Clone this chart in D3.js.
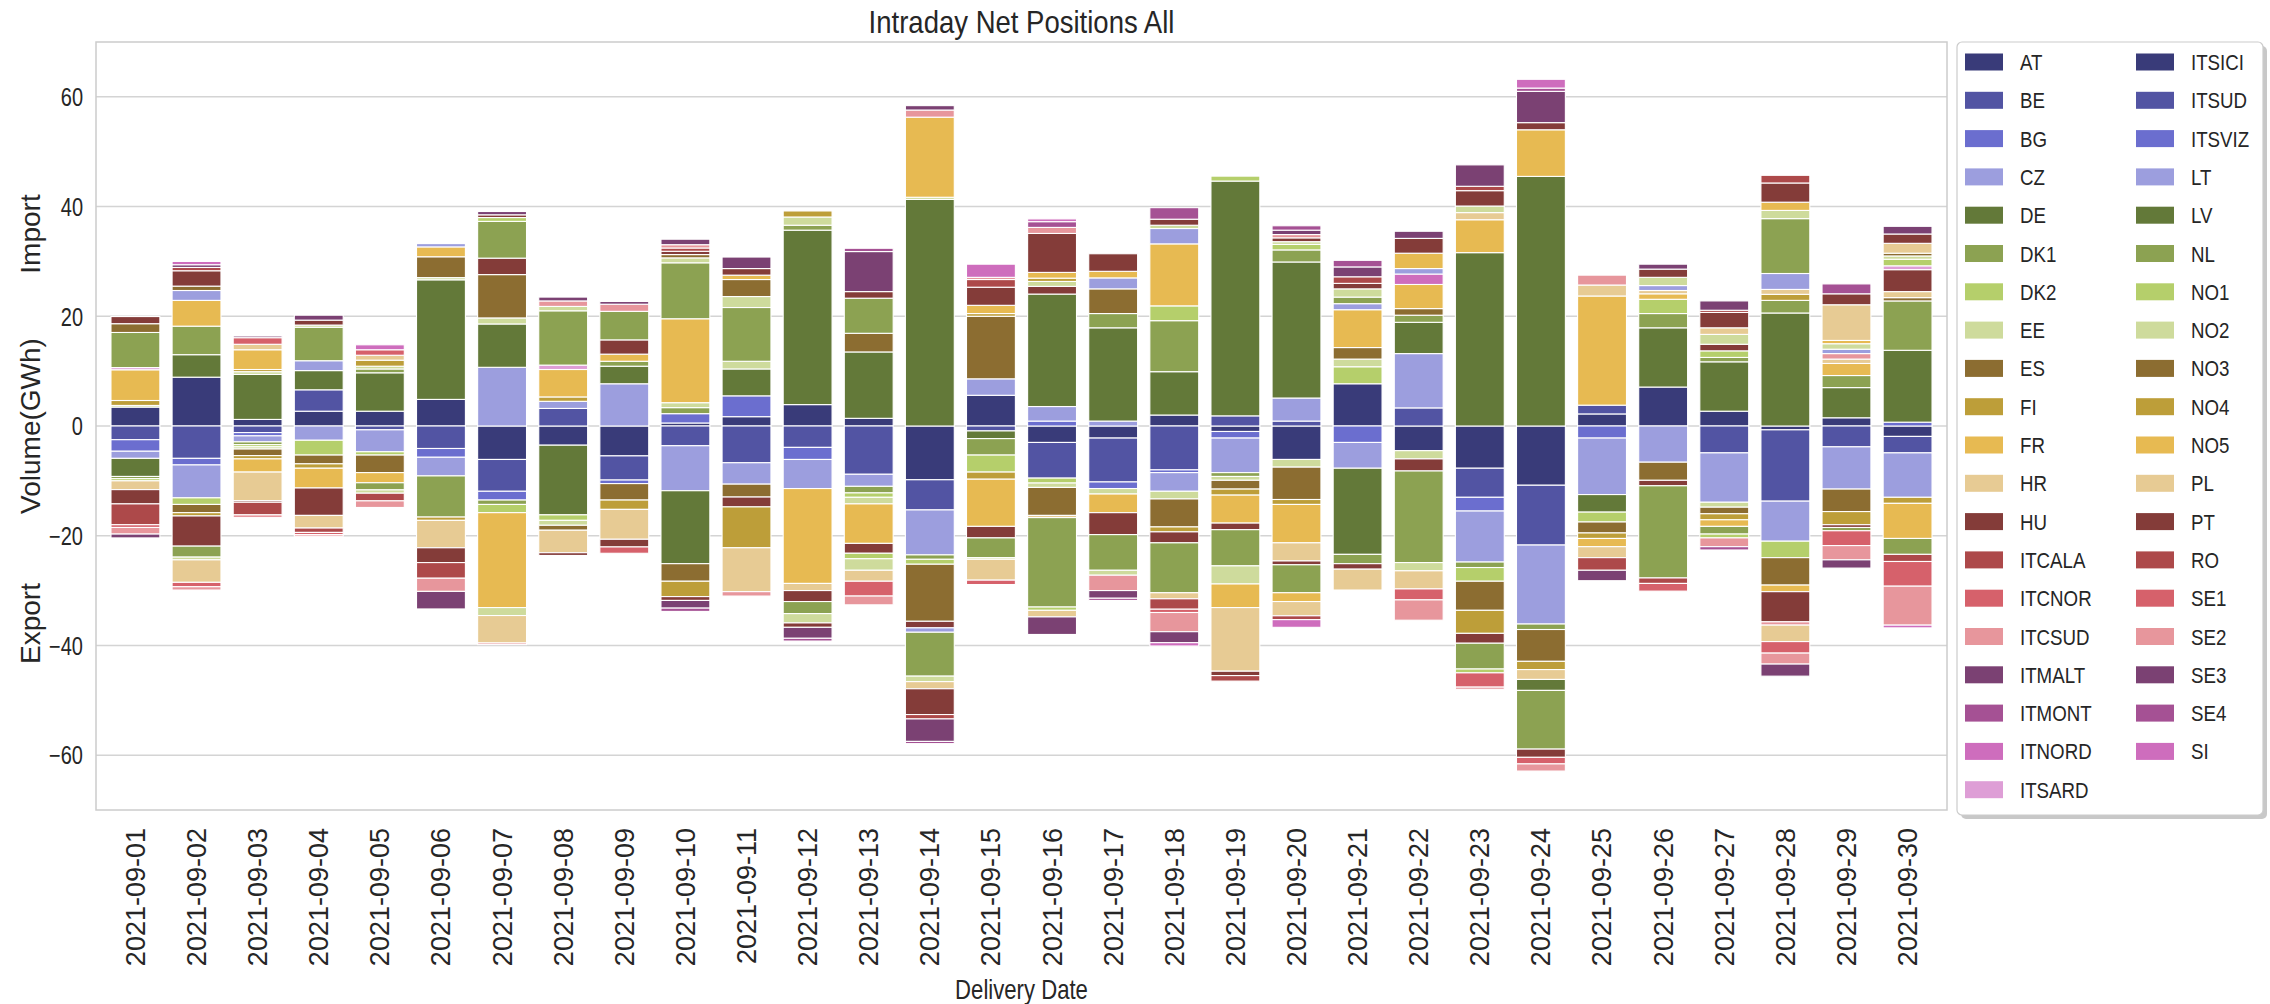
<!DOCTYPE html>
<html><head><meta charset="utf-8">
<script src="https://cdn.jsdelivr.net/npm/d3@7"></script>
<style>
body{margin:0;background:#fff;}
svg{display:block;}
text{font-family:"Liberation Sans", Arial, sans-serif; fill:#262626;}
</style>
</head><body>
<svg id="chart" width="2270" height="1004"></svg>
<script>
const dates = ["2021-09-01","2021-09-02","2021-09-03","2021-09-04","2021-09-05","2021-09-06","2021-09-07","2021-09-08","2021-09-09","2021-09-10","2021-09-11","2021-09-12","2021-09-13","2021-09-14","2021-09-15","2021-09-16","2021-09-17","2021-09-18","2021-09-19","2021-09-20","2021-09-21","2021-09-22","2021-09-23","2021-09-24","2021-09-25","2021-09-26","2021-09-27","2021-09-28","2021-09-29","2021-09-30"];
const seriesNames = ["AT","BE","BG","CZ","DE","DK1","DK2","EE","ES","FI","FR","HR","HU","ITCALA","ITCNOR","ITCSUD","ITMALT","ITMONT","ITNORD","ITSARD","ITSICI","ITSUD","ITSVIZ","LT","LV","NL","NO1","NO2","NO3","NO4","NO5","PL","PT","RO","SE1","SE2","SE3","SE4","SI"];
const yTicks = [-60,-40,-20,0,20,40,60];
const palette = ["#393b79","#5254a3","#6b6ecf","#9c9ede","#637939","#8ca252","#b5cf6b","#cedb9c","#8c6d31","#bd9e39","#e7ba52","#e7cb94","#843c39","#ad494a","#d6616b","#e7969c","#7b4173","#a55194","#ce6dbd","#de9ed6"];

const AT = [3.45,8.9,1.2,2.7,2.7, 4.85,-6.1,-3.5,-5.45,0.55, 1.7,3.9,1.4,-9.8,5.6, -3.0,-2.2,2.0,-1.0,-6.1, 7.7,-4.5,-7.7,-10.8,2.2, 7.1,2.7,-0.7,1.5,-1.9];
const BE = [-2.5,-5.9,-1.2,3.9,-0.7, -4.1,-5.8,3.2,-4.4,-3.6, -6.7,-3.9,-8.8,-5.5,-0.9, -6.5,-8.0,-8.0,1.85,0.9, 0,3.3,-5.3,-10.9,1.6, 0,-4.9,-13.0,-3.8,-3.0];
const BG = [-2.1,-1.2,-0.6,0,0, -1.6,-1.6,0,-0.65,1.7, 3.8,-2.2,0,0,0, 0.9,-1.2,-0.5,-1.2,0, -3.0,0,-2.5,0,-2.2, 0,0,0,0,0.7];
const CZ = [-1.3,-6.0,-1.1,-2.6,-4.0, -3.4,10.7,1.3,7.7,-8.2, -3.9,-5.3,-2.2,-8.2,0, 2.65,0.9,-3.4,-6.3,4.2, -4.7,9.9,-9.3,-14.4,-10.3, -6.6,-9.0,-7.3,-7.7,-8.1];
const DE = [-3.3,4.1,8.2,3.5,7.0, 21.8,7.9,-12.7,3.2,-13.3, 4.9,31.8,12.1,41.3,-1.4, 20.5,17.0,7.9,42.8,24.8, -15.7,5.7,31.6,45.5,-3.2, 10.8,9.0,20.6,5.5,13.1];
const DK1 = [-0.4,5.2,-0.5,0,0.7, -7.5,-0.8,0,0.9,1.1, 0,0.9,-1.2,-0.8,-3.0, 0,2.6,9.3,-0.7,2.2, -1.7,1.3,-1.0,-1.0,0, 2.6,0.8,2.3,2.2,9.0];
const DK2 = [-0.4,-1.2,-0.4,-2.7,-0.6, 0,-1.5,-1.0,0,0, 0,0,-0.8,-0.9,-3.1, -0.9,0,2.7,0.9,1.0, 3.1,0,-2.5,0,-1.8, 2.6,1.2,-3.0,0,0];
const EE = [0.3,0,-0.4,0,0.5, 0.4,1.1,-0.9,0,0.9, 1.4,1.5,-1.2,0.4,0, -0.8,-1.0,-1.4,-0.7,-1.4, 1.4,-1.5,0,0,0, 0,-0.9,0,0,0];
const ES = [0,-1.5,-1.2,-1.6,-3.2, 3.8,7.9,-0.9,-3.0,-3.2, -2.35,0,3.4,-10.4,0, -5.1,4.5,-5.1,-1.6,-5.9, 2.1,1.2,-5.3,-5.8,-2.0, -3.3,-1.2,-5.0,-4.1,0.6];
const FI = [0.9,-0.6,-0.6,-0.8,1.1, -0.6,0,0.8,-1.7,-2.8, 0,1.1,0,0,-1.3, 0,0,-0.9,-1.1,-0.9, 0,0,-4.2,-1.5,-1.0, 0,-1.1,1.1,-2.4,-1.1];
const FR = [5.6,4.7,-2.4,-3.6,-1.85, 1.8,-17.3,5.0,1.3,15.3, 0,-17.3,-7.2,14.6,-8.6, 0,-3.4,11.3,-5.1,-7.0, 6.9,4.4,6.0,8.5,-1.5, 1.0,-1.2,-1.2,2.2,-6.4];
const HR = [-1.6,0,-5.2,0,0.9, -5.0,0,-4.1,-5.45,0, 0,-1.3,0,0,0, -0.4,0,0,0,-3.3, 0,0,1.3,-1.8,-2.0, 0.6,0,0.9,0.8,1.1];
const HU = [-2.6,-5.5,-0.3,-5.0,0, -2.7,3.0,-0.5,2.6,-0.7, -1.8,-2.0,-1.8,-1.2,-2.1, 1.4,-4.0,-2.0,-1.2,-0.7, -1.0,-2.2,-1.8,1.3,0, -1.0,1.2,-5.5,-0.5,4.0];
const ITCALA = [-3.8,0,-2.3,0,0, -2.85,0,0,0,0, 0,0,0,0,0, 0,0,0,0,0, 0,0,0,0,-2.3, 0,0,0,0,0];
const ITCNOR = [-0.5,0,0,0,1.0, 0,0,0,0,0, 0,0,0,0,0, 0,0,0,0,0, 0,0,0,0,0, 0,0,0,0,0];
const ITCSUD = [-1.2,0,-0.5,0,0, -2.4,0,0,0,0, 0,0,0,1.3,0, 0,0,0,0,0, 0,0,0,0,0, 0,0,-0.6,1.0,0];
const ITMALT = [-0.7,0,0,0,0, -3.2,0,0,0,-1.4, 0,0,0,0.8,0, 0,0,0,0,0, 0,0,0,5.7,-1.9, 0,0,0,0,0];
const ITMONT = [0,0,0,0,0, 0,0,0,0,-0.6, 0,0,0,0,0, 0,0,0,0,0, 0,0,0,0.6,0, 0,0,0,0,0];
const ITNORD = [0,0,0,0,0.9, 0,0,0,0,0, 0,0,0,0,0, 0,0,0,0,0, 0,1.9,0,1.6,0, 0,0,0,0,0];
const ITSARD = [0.4,0,0,0,0, 0,0,0.8,0,0, 0,0,0,0,0, 0,0,0,0,0, 0,0,0,0,0, 0,0,0,0,0.7];
const ITSICI = [0,0,0,0,0, 0,0,0,0,0, 0,0,0,0,0, 0,0,0,0,0, 0,0,0,0,0, 0,0,0,0,0];
const ITSUD = [0,0,0,0,0, 0,0,0,0,0, 0,0,0,0,0, 0,0,0,0,0, 0,0,0,0,0, 0,0,0,0,0];
const ITSVIZ = [0,0,0,0,0, 0,0,0,0,0, 0,0,0,0,0, 0,0,0,0,0, 0,0,0,0,0, 0,0,0,0,0];
const LT = [0,1.8,0,1.8,0, 0.6,0,0,0,0, 0,0,0,-0.8,3.0, 0,2.0,2.8,0,0, 1.1,1.0,0,0,0, 0.9,0,2.9,0.8,0];
const LV = [0,0,0,0,0, 0,0,0,0,0, 0,0,0,0,0, 0,0,0,0,0, 0,0,0,-2.0,0, 0,0,0,0,0];
const NL = [6.4,-2.0,0,6.1,-1.3, 0,6.7,9.9,5.2,10.2, 9.8,-2.2,6.4,-8.0,-3.6, -16.3,-6.5,-9.1,-6.6,-5.1, 1.2,-16.7,-4.7,-10.7,0, -16.8,-1.4,10.0,-0.6,-2.9];
const NO1 = [0,0,0,0,0, 0,0.7,0,0,0, 0,0,-1.0,0,0, -0.6,0,0,0,0, 0,0,-0.7,0,0, 0,-0.7,0,0,1.2];
const NO2 = [0,-0.5,0.5,0.4,-0.6, 0,-1.45,0.8,0,0.9, 2.0,-1.7,-2.1,-1.0,-0.3, 0.9,-0.9,0.6,-3.3,0.5, 1.5,-1.5,1.2,0,0, 1.5,1.8,1.5,1.0,0.6];
const NO3 = [1.6,0.8,0,0,0, 0,0,0,0,0.6, 3.1,0,0,0,11.4, 0,0,0,0,0, 0,0,0,0,0, 0,0,0,0,0.5];
const NO4 = [0,0,0.4,0,0, 0,0,0,0,0, -7.45,0,0,0,0.5, 0.6,0,0,0,0, 0,0,0,0,0, 0,0,0,0,0];
const NO5 = [0,0,3.6,0,0, 0,0,0,0,0, 0.8,0,0,0,1.5, 1.05,1.2,0,-4.3,-1.6, 0,2.8,0,0,19.9, 0,0,1.5,0.6,0];
const PL = [0,-4.1,1.0,-2.3,0, 0,-5.0,0,0,0, -8.0,0,-2.0,-1.3,-3.8, -1.2,0,-1.1,-11.6,-2.6, -3.8,-3.3,0,0,2.0, 0,1.2,-3.0,6.5,1.8];
const PT = [1.3,2.8,0,0.9,0, 0,0.5,0,-1.4,0.6, 1.2,-0.8,1.2,-4.7,3.3, 7.1,3.2,1.1,-0.8,0.7, 1.0,2.7,2.8,-1.5,0, 1.5,2.8,3.5,2.0,1.7];
const RO = [0,0.6,0,-0.8,-1.4, 0,0,0,0,0.6, 0,0,0,-0.8,1.4, 0,0,-1.9,-1.0,-0.7, 1.2,0,0.8,0,0, -1.0,0.4,1.4,0,-1.3];
const SE1 = [0,-0.8,1.2,-0.4,0, 0,0,0,-1.15,0, 0,0,-2.7,0,-0.8, 0,0,-0.6,0,0, 0,-2.0,-2.6,-1.2,0, -1.4,0,-2.1,-2.7,-4.5];
const SE2 = [0,-0.6,0,-0.3,-1.2, 0,-0.3,1.0,1.3,0.6, -0.8,0,-1.6,0,0.4, 1.1,-2.8,-3.5,0,0.6, 0,-3.7,-0.4,-1.3,1.8, 0,-1.6,-2.0,-2.6,-7.1];
const SE3 = [0,0.5,0.3,0.9,0, 0,0.6,0.7,0.5,1.0, 2.1,-2.0,7.3,-4.1,0, -3.2,-1.4,-2.0,0,0.8, 1.8,1.3,3.9,0,0, 0.9,1.7,-2.2,-1.5,1.4];
const SE4 = [0,0,0,0,0, 0,0,0,0,0, 0,-0.5,0.6,-0.4,0, 1.05,-0.4,2.1,0,0.8, 1.2,0,0,0,0, 0,-0.6,0,1.8,0];
const SI = [0,0.6,0,0,0, 0,0,0,0,0, 0,0,0,0,2.4, 0.5,0,-0.6,0,-1.4, 0,0,0,0,0, 0,0,0,0,-0.5];

const seriesValues = [AT,BE,BG,CZ,DE,DK1,DK2,EE,ES,FI,FR,HR,HU,ITCALA,ITCNOR,ITCSUD,ITMALT,ITMONT,ITNORD,ITSARD,ITSICI,ITSUD,ITSVIZ,LT,LV,NL,NO1,NO2,NO3,NO4,NO5,PL,PT,RO,SE1,SE2,SE3,SE4,SI];
const color = d3.scaleOrdinal().domain(seriesNames).range(seriesNames.map((s,i)=>palette[i % 20]));

const svg = d3.select("#chart");
const L = 96, R = 1947, T = 42, B = 810;
const x = d3.scaleBand().domain(dates).range([L, R]).paddingInner(0.2).paddingOuter(0.245);
const y = d3.scaleLinear().domain([-70, 70]).range([B, T]);

// gridlines
svg.append("g").selectAll("line").data(yTicks).join("line")
  .attr("x1", L).attr("x2", R)
  .attr("y1", d => y(d)).attr("y2", d => y(d))
  .attr("stroke", "#d4d4d4").attr("stroke-width", 1.5);

// stacked segments
const segs = [];
dates.forEach((d, i) => {
  let pos = 0, neg = 0;
  seriesNames.forEach((s, k) => {
    const v = seriesValues[k][i];
    if (v > 0) { segs.push({d, s, y0: pos, y1: pos + v}); pos += v; }
    else if (v < 0) { segs.push({d, s, y0: neg, y1: neg + v}); neg += v; }
  });
});
svg.append("g").selectAll("rect").data(segs).join("rect")
  .attr("x", d => x(d.d))
  .attr("width", x.bandwidth())
  .attr("y", d => y(Math.max(d.y0, d.y1)))
  .attr("height", d => Math.abs(y(d.y0) - y(d.y1)))
  .attr("fill", d => color(d.s))
  .attr("stroke", "#ffffff").attr("stroke-width", 1.1);

// frame
svg.append("rect").attr("x", L).attr("y", T).attr("width", R - L).attr("height", B - T)
  .attr("fill", "none").attr("stroke", "#cccccc").attr("stroke-width", 1.5);

// y axis
const yAxis = svg.append("g").attr("transform", `translate(${L},0)`)
  .call(d3.axisLeft(y).tickValues(yTicks).tickSize(0).tickFormat(d => d < 0 ? "\u2212" + Math.abs(d) : d));
yAxis.select(".domain").remove();
yAxis.selectAll("text")
  .attr("x", 0).attr("dy", "0.35em")
  .attr("transform", "translate(-13,0) scale(0.8,1)")
  .style("font-size", "25px").style("font-family", "'Liberation Sans', Arial, sans-serif").attr("fill", "#262626");

// x axis
const xAxis = svg.append("g").attr("transform", `translate(0,${B})`)
  .call(d3.axisBottom(x).tickSize(0));
xAxis.select(".domain").remove();
xAxis.selectAll("text")
  .attr("transform", "rotate(-90)")
  .attr("x", -18).attr("y", 0).attr("dy", "0.35em")
  .attr("text-anchor", "end")
  .style("font-size", "27px").style("font-family", "'Liberation Sans', Arial, sans-serif").attr("fill", "#262626");

// title
svg.append("text").attr("transform", `translate(${(L + R) / 2},33) scale(0.86,1)`)
  .attr("text-anchor", "middle").style("font-size", "32px").text("Intraday Net Positions All");

// x label
svg.append("text").attr("transform", `translate(${(L + R) / 2},999) scale(0.82,1)`)
  .attr("text-anchor", "middle").style("font-size", "27px").text("Delivery Date");

// y labels
svg.append("text").attr("transform", `translate(40,${y(0)}) rotate(-90)`)
  .attr("text-anchor", "middle").style("font-size", "28px").text("Volume(GWh)");
svg.append("text").attr("transform", `translate(40,${y(35)}) rotate(-90)`)
  .attr("text-anchor", "middle").style("font-size", "28px").text("Import");
svg.append("text").attr("transform", `translate(40,${y(-36)}) rotate(-90)`)
  .attr("text-anchor", "middle").style("font-size", "28px").text("Export");

// legend
const lgX = 1957, lgY = 42, lgW = 306, lgH = 773;
svg.append("rect").attr("x", lgX + 4).attr("y", lgY + 4).attr("width", lgW).attr("height", lgH)
  .attr("rx", 5).attr("fill", "#9a9a9a").attr("opacity", 0.55);
svg.append("rect").attr("x", lgX).attr("y", lgY).attr("width", lgW).attr("height", lgH)
  .attr("rx", 5).attr("fill", "#ffffff").attr("stroke", "#cccccc").attr("stroke-width", 1.2);
const perCol = 20, rowH = 38.3;
const lg = svg.append("g").selectAll("g").data(seriesNames).join("g")
  .attr("transform", (d, i) => {
    const col = Math.floor(i / perCol), row = i % perCol;
    return `translate(${col === 0 ? 1965 : 2136},${62 + row * rowH})`;
  });
lg.append("rect").attr("x", 0).attr("y", -8.5).attr("width", 38).attr("height", 17)
  .attr("fill", d => color(d));
lg.append("text").attr("transform", "translate(55,8) scale(0.85,1)")
  .style("font-size", "22px").text(d => d);
</script>
</body></html>
